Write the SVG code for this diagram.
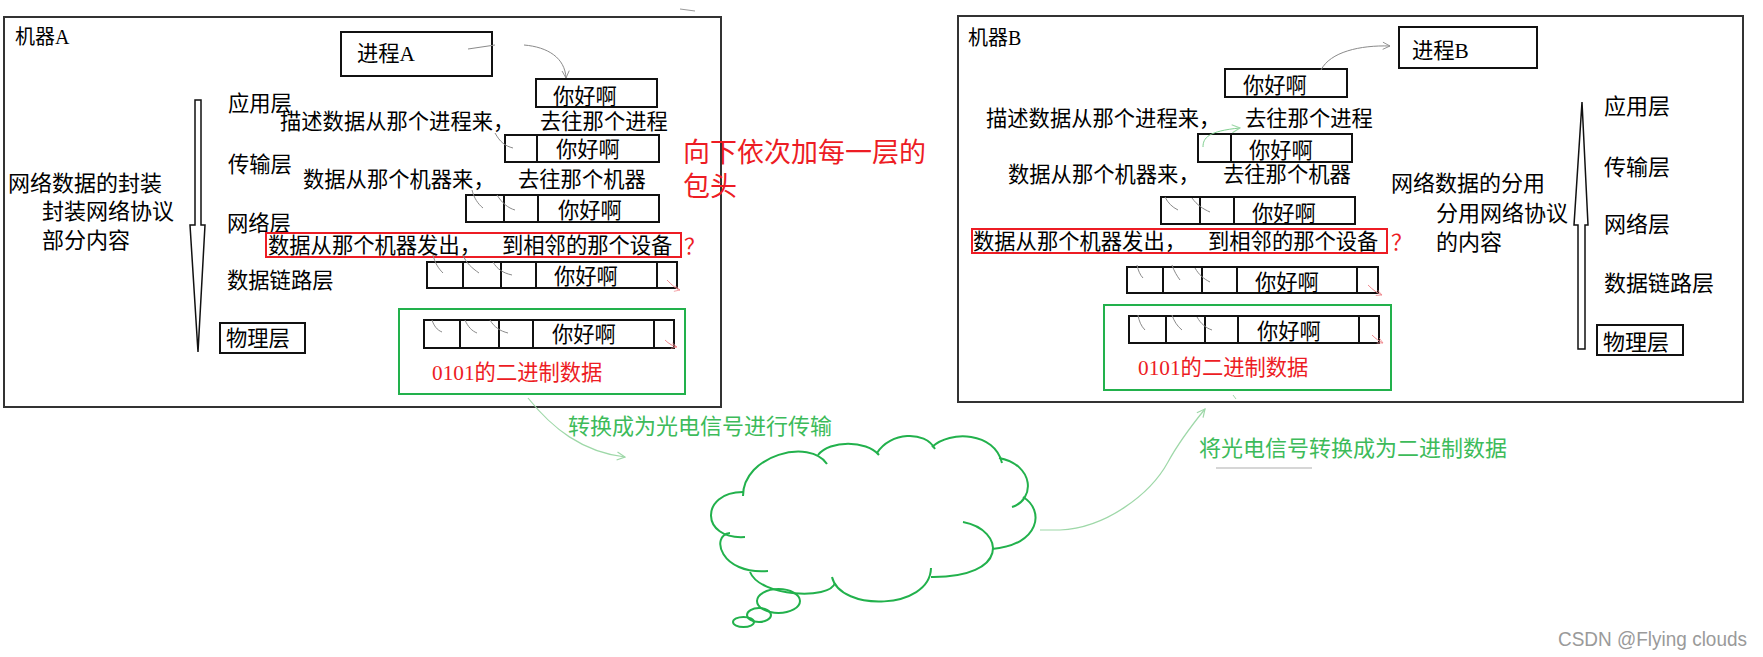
<svg xmlns="http://www.w3.org/2000/svg" width="1763" height="657" viewBox="0 0 1763 657">
<defs>
<style>
.frame{fill:#fff;stroke:#333;stroke-width:2}
.bx{fill:#fff;stroke:#111;stroke-width:2}
.rb{fill:none;stroke:#ED1C24;stroke-width:2}
.gb{fill:none;stroke:#22B14C;stroke-width:2}
.t{font-family:"Liberation Serif","Noto Sans CJK SC",serif;font-size:21.3px;fill:#000}
.s20{font-size:20px}
.s22{font-size:22px}
.red{fill:#ED1C24}
.grn{fill:#3DBB5A;font-size:22px}
.big{font-size:27px;fill:#ED1C24}
.curl{fill:none;stroke:#8a8a8a;stroke-width:1}
.curlr{fill:none;stroke:#f08a8f;stroke-width:1}
.gconn{fill:none;stroke:#9ed8a8;stroke-width:1.2}
.cloud{fill:none;stroke:#22B14C;stroke-width:2}
.arr{fill:#fff;stroke:#111;stroke-width:1.5}
</style>
<marker id="ag" viewBox="0 0 10 10" refX="9" refY="5" markerWidth="9" markerHeight="9" orient="auto" markerUnits="userSpaceOnUse"><path d="M1,1 L9,5 L1,9" fill="none" stroke="#8a8a8a" stroke-width="1"/></marker>
<marker id="agn" viewBox="0 0 10 10" refX="9" refY="5" markerWidth="10" markerHeight="10" orient="auto" markerUnits="userSpaceOnUse"><path d="M1,1 L9,5 L1,9" fill="none" stroke="#9ed8a8" stroke-width="1.2"/></marker>
<marker id="ar" viewBox="0 0 10 10" refX="9" refY="5" markerWidth="7" markerHeight="7" orient="auto" markerUnits="userSpaceOnUse"><path d="M1,1 L9,5 L1,9" fill="none" stroke="#f08a8f" stroke-width="1"/></marker>
</defs>
<rect width="1763" height="657" fill="#fff"/>

<g id="machineA">
<rect class="frame" x="4" y="17" width="717" height="390"/>
<text class="t s20" x="15" y="44">机器A</text>
</g>
<g id="processA">
<rect class="bx" x="341" y="32" width="151" height="44"/>
<text class="t" x="357" y="61">进程A</text>
</g>
<g id="layersA">
<text class="t" x="228" y="111">应用层</text>
<text class="t" x="228" y="172">传输层</text>
<text class="t" x="227" y="231">网络层</text>
<text class="t" x="227" y="288">数据链路层</text>
<rect class="bx" x="220" y="323" width="85" height="30"/>
<text class="t" x="226" y="346">物理层</text>
</g>
<g id="arrowA">
<polygon class="arr" points="195,100 201,100 201,225 205,225 198,352 190,225 195,225"/>
</g>
<g id="encapA">
<text class="t s22" x="8" y="191">网络数据的封装</text>
<text class="t s22" x="42" y="219">封装网络协议</text>
<text class="t s22" x="42" y="248">部分内容</text>
</g>
<g id="appA">
<rect class="bx" x="536" y="79" width="121" height="28"/>
<text class="t" x="553" y="104">你好啊</text>
<text class="t" x="280" y="129">描述数据从那个进程来，</text>
<text class="t" x="540" y="129">去往那个进程</text>
</g>
<g id="transA">
<rect class="bx" x="505" y="135" width="32" height="27"/>
<rect class="bx" x="537" y="135" width="122" height="27"/>
<text class="t" x="556" y="157">你好啊</text>
<text class="t" x="303" y="187">数据从那个机器来，</text>
<text class="t" x="518" y="187">去往那个机器</text>
</g>
<g id="netA">
<rect class="bx" x="466" y="195" width="38" height="27"/>
<rect class="bx" x="504" y="195" width="34" height="27"/>
<rect class="bx" x="538" y="195" width="121" height="27"/>
<text class="t" x="558" y="218">你好啊</text>
<rect class="rb" x="266" y="233" width="415" height="24"/>
<text class="t" x="268" y="253">数据从那个机器发出，</text>
<text class="t" x="502" y="253">到相邻的那个设备</text>
<text class="t red" x="684" y="254" font-size="20">？</text>
</g>
<g id="linkA">
<rect class="bx" x="427" y="262" width="36" height="26"/>
<rect class="bx" x="463" y="262" width="38" height="26"/>
<rect class="bx" x="501" y="262" width="35" height="26"/>
<rect class="bx" x="536" y="262" width="121" height="26"/>
<rect class="bx" x="657" y="262" width="20" height="26"/>
<text class="t" x="554" y="284">你好啊</text>
</g>
<g id="physA">
<rect class="gb" x="399" y="309" width="286" height="85"/>
<rect class="bx" x="424" y="320" width="36" height="28"/>
<rect class="bx" x="460" y="320" width="39" height="28"/>
<rect class="bx" x="499" y="320" width="34" height="28"/>
<rect class="bx" x="533" y="320" width="121" height="28"/>
<rect class="bx" x="654" y="320" width="20" height="28"/>
<text class="t" x="552" y="342">你好啊</text>
<text class="t red" x="432" y="380">0101的二进制数据</text>
</g>
<g id="noteA">
<text class="t big" x="683" y="162">向下依次加每一层的</text>
<text class="t big" x="683" y="196">包头</text>
</g>

<g id="machineB">
<rect class="frame" x="958" y="16" width="785" height="386"/>
<text class="t s20" x="968" y="45">机器B</text>
</g>
<g id="processB">
<rect class="bx" x="1399" y="27" width="138" height="41"/>
<text class="t" x="1412" y="58">进程B</text>
</g>
<g id="layersB">
<text class="t s22" x="1604" y="114">应用层</text>
<text class="t s22" x="1604" y="175">传输层</text>
<text class="t s22" x="1604" y="232">网络层</text>
<text class="t s22" x="1604" y="291">数据链路层</text>
<rect class="bx" x="1597" y="325" width="86" height="30"/>
<text class="t s22" x="1603" y="350">物理层</text>
</g>
<g id="arrowB">
<polygon class="arr" points="1582,102 1588,225 1585,225 1585,349 1578,349 1578,225 1574,225"/>
</g>
<g id="decapB">
<text class="t s22" x="1391" y="191">网络数据的分用</text>
<text class="t s22" x="1436" y="221">分用网络协议</text>
<text class="t s22" x="1436" y="250">的内容</text>
</g>
<g id="appB">
<rect class="bx" x="1225" y="69" width="122" height="28"/>
<text class="t" x="1243" y="93">你好啊</text>
<text class="t" x="986" y="126">描述数据从那个进程来，</text>
<text class="t" x="1245" y="126">去往那个进程</text>
</g>
<g id="transB">
<rect class="bx" x="1198" y="134" width="33" height="28"/>
<rect class="bx" x="1231" y="134" width="121" height="28"/>
<text class="t" x="1249" y="158">你好啊</text>
<text class="t" x="1008" y="182">数据从那个机器来，</text>
<text class="t" x="1223" y="182">去往那个机器</text>
</g>
<g id="netB">
<rect class="bx" x="1161" y="197" width="39" height="27"/>
<rect class="bx" x="1200" y="197" width="34" height="27"/>
<rect class="bx" x="1234" y="197" width="121" height="27"/>
<text class="t" x="1252" y="221">你好啊</text>
<rect class="rb" x="972" y="229" width="415" height="24"/>
<text class="t" x="973" y="249">数据从那个机器发出，</text>
<text class="t" x="1208" y="249">到相邻的那个设备</text>
<text class="t red" x="1391" y="250" font-size="20">？</text>
</g>
<g id="linkB">
<rect class="bx" x="1127" y="267" width="36" height="26"/>
<rect class="bx" x="1163" y="267" width="39" height="26"/>
<rect class="bx" x="1202" y="267" width="35" height="26"/>
<rect class="bx" x="1237" y="267" width="120" height="26"/>
<rect class="bx" x="1357" y="267" width="21" height="26"/>
<text class="t" x="1255" y="290">你好啊</text>
</g>
<g id="physB">
<rect class="gb" x="1104" y="305" width="287" height="85"/>
<rect class="bx" x="1129" y="316" width="37" height="27"/>
<rect class="bx" x="1166" y="316" width="39" height="27"/>
<rect class="bx" x="1205" y="316" width="33" height="27"/>
<rect class="bx" x="1238" y="316" width="121" height="27"/>
<rect class="bx" x="1359" y="316" width="20" height="27"/>
<text class="t" x="1257" y="339">你好啊</text>
<text class="t red" x="1138" y="375">0101的二进制数据</text>
</g>

<g id="cloud">
<path class="cloud" d="M743,496 C743,455 810,438 827,464"/>
<path class="cloud" d="M818,455 C830,440 866,440 879,455"/>
<path class="cloud" d="M877,453 C890,432 925,430 935,449"/>
<path class="cloud" d="M932,447 C950,430 995,432 1002,463"/>
<path class="cloud" d="M999,458 C1035,465 1035,500 1012,507"/>
<path class="cloud" d="M1023,497 C1045,510 1040,545 992,549"/>
<path class="cloud" d="M963,522 C1005,530 1010,578 931,577"/>
<path class="cloud" d="M931,568 C930,610 840,612 832,577"/>
<path class="cloud" d="M835,583 C830,600 760,597 750,572"/>
<path class="cloud" d="M768,571 C720,575 710,535 730,533"/>
<path class="cloud" d="M745,537 C700,540 700,492 743,492"/>
<ellipse class="cloud" cx="778.5" cy="601" rx="21.5" ry="12"/>
<ellipse class="cloud" cx="759" cy="615" rx="12" ry="7"/>
<ellipse class="cloud" cx="743.5" cy="622" rx="10.5" ry="5"/>
</g>
<g id="labels">
<text class="t grn" x="568" y="434">转换成为光电信号进行传输</text>
<text class="t grn" x="1199" y="456">将光电信号转换成为二进制数据</text>
<line x1="1216" y1="468" x2="1312" y2="468" stroke="#c8c8c8" stroke-width="1.5"/>
<text x="1558" y="646" font-family="Liberation Sans,sans-serif" font-size="20" fill="#9a9a9a" textLength="189" lengthAdjust="spacingAndGlyphs">CSDN @Flying  clouds</text>
</g>

<g id="connectors">
<path class="curl" d="M468,49 L495,45"/>
<path class="curl" d="M524,45 C548,47 565,58 566,78" marker-end="url(#ag)"/>
<path class="curl" d="M1321,70 C1330,52 1360,45 1390,46" marker-end="url(#ag)"/>
<path class="gconn" d="M528,398 C552,428 582,452 625,457" marker-end="url(#agn)"/>
<path class="gconn" d="M1040,530 L1060,530 C1105,528 1150,495 1168,462 C1180,440 1192,425 1205,409" marker-end="url(#agn)"/>
<path d="M680,9 L695,11" stroke="#999" stroke-width="1" fill="none"/>
<path d="M1233,395 L1236,399" stroke="#9ed8a8" stroke-width="1" fill="none"/>
<path class="curl" d="M495,133 C500,142 505,146 513,148"/>
<path class="curl" d="M472,190 C474,198 478,204 483,208"/>
<path class="curl" d="M497,195 C502,203 508,208 515,210"/>
<path class="curl" d="M433,255 C435,263 438,268 443,273"/>
<path class="curl" d="M463,255 C466,263 472,268 479,273"/>
<path class="curl" d="M493,262 C497,269 503,273 512,275"/>
<path class="curl" d="M432,320 C434,326 437,330 442,332"/>
<path class="curl" d="M465,320 C468,327 472,331 477,333"/>
<path class="curl" d="M490,320 C494,327 500,331 508,333"/>
<path class="curlr" d="M667,280 C672,285 676,289 680,290" marker-end="url(#ar)"/>
<path class="curlr" d="M665,340 C669,344 673,346 677,347" marker-end="url(#ar)"/>
<path d="M1203,147 C1203,138 1208,131 1240,128" fill="none" stroke="#7fcf8f" stroke-width="1" marker-end="url(#agn)"/>
<path class="curl" d="M1165,197 C1168,203 1172,207 1178,210"/>
<path class="curl" d="M1192,198 C1197,205 1203,209 1210,212"/>
<path class="curl" d="M1137,265 C1138,270 1140,275 1143,278"/>
<path class="curl" d="M1172,265 C1174,271 1177,276 1180,280"/>
<path class="curl" d="M1195,268 C1199,275 1204,279 1210,282"/>
<path class="curl" d="M1138,315 C1139,321 1141,326 1145,330"/>
<path class="curl" d="M1172,315 C1174,321 1177,326 1182,330"/>
<path class="curl" d="M1197,317 C1201,324 1206,328 1212,330"/>
<path class="curlr" d="M1368,285 C1373,290 1377,293 1382,295" marker-end="url(#ar)"/>
<path class="curlr" d="M1372,335 C1376,339 1379,341 1383,343" marker-end="url(#ar)"/>
</g>
</svg>
